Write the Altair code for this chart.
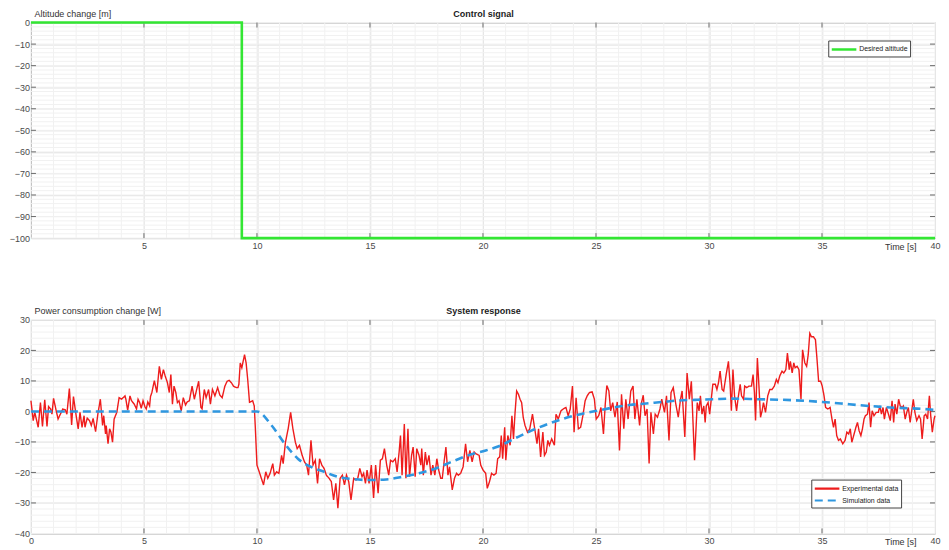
import altair as alt
import pandas as pd

FONT = "Liberation Sans"
W = 906
H1 = 216
H2 = 214

# ---------------- data ----------------
step_t = [0.0, 9.33, 40.0]
step_v = [0, -100, -100]

exp_t = [0.00, 0.10, 0.17, 0.32, 0.42, 0.51, 0.61, 0.71, 0.78, 0.87, 0.93, 1.00, 1.10, 1.20, 1.30, 1.41, 1.52, 1.59, 1.70, 1.80,
         1.88, 1.99, 2.09, 2.17, 2.26, 2.35, 2.39, 2.49, 2.59, 2.67, 2.75, 2.86, 2.96, 3.07, 3.17, 3.22, 3.30, 3.33, 3.41, 3.48,
         3.54, 3.61, 3.68, 3.75, 3.80, 3.90, 4.01, 4.16, 4.20, 4.28, 4.38, 4.45, 4.57, 4.67, 4.74, 4.81, 4.88, 4.96, 5.04, 5.10,
         5.17, 5.25, 5.29, 5.35, 5.46, 5.57, 5.68, 5.77, 5.86, 5.94, 6.04, 6.12, 6.19, 6.26, 6.33, 6.41, 6.48, 6.55, 6.65, 6.74,
         6.84, 6.91, 7.01, 7.13, 7.23, 7.42, 7.52, 7.57, 7.67, 7.75, 7.86, 7.94, 8.03, 8.14, 8.26, 8.36, 8.46, 8.58, 8.68, 8.77,
         8.87, 8.96, 9.09, 9.16, 9.20, 9.26, 9.33, 9.45, 9.52, 9.59, 9.67, 9.81, 9.88, 9.93,
         10.00, 10.10, 10.29, 10.39, 10.48, 10.58, 10.70, 10.77, 10.87, 10.97, 11.09, 11.16, 11.26, 11.38, 11.49, 11.59, 11.70, 11.78, 11.88, 12.00,
         12.10, 12.20, 12.28, 12.39, 12.48, 12.58, 12.68, 12.77, 12.87, 12.97, 13.07, 13.19, 13.29, 13.39, 13.49, 13.58, 13.68, 13.78, 13.87, 13.96,
         14.06, 14.16, 14.28, 14.38, 14.46, 14.55, 14.65, 14.72, 14.80, 14.87, 14.96, 15.06, 15.16, 15.25, 15.36, 15.46, 15.55, 15.64, 15.74, 15.83,
         15.91, 16.01, 16.12, 16.20, 16.29, 16.35, 16.42, 16.52, 16.59, 16.68, 16.75, 16.84, 16.91, 17.00, 17.07, 17.17, 17.25, 17.29, 17.36, 17.45,
         17.52, 17.61, 17.70, 17.78, 17.87, 17.96, 18.04, 18.13, 18.20, 18.28, 18.36, 18.45, 18.52, 18.64, 18.74, 18.83, 18.91, 19.01, 19.12, 19.23,
         19.32, 19.42, 19.52, 19.61, 19.68, 19.83, 19.90,
         20.00, 20.12, 20.19, 20.29, 20.38, 20.48, 20.58, 20.65, 20.74, 20.81, 20.87, 20.96, 21.01, 21.10, 21.20, 21.28, 21.35, 21.42, 21.49, 21.57,
         21.64, 21.71, 21.78, 21.86, 21.97, 22.07, 22.19, 22.29, 22.39, 22.46, 22.55, 22.65, 22.72, 22.80, 22.87, 22.94, 23.04, 23.16, 23.23, 23.33,
         23.45, 23.55, 23.67, 23.77, 23.86, 23.96, 24.03, 24.12, 24.22, 24.32, 24.42, 24.52, 24.61, 24.71, 24.83, 24.93, 25.01, 25.12, 25.22, 25.33,
         25.41, 25.48, 25.57, 25.65, 25.74, 25.84, 25.94, 26.04, 26.13, 26.23, 26.32, 26.42, 26.54, 26.64, 26.72, 26.81, 26.93, 27.00, 27.09, 27.17,
         27.26, 27.35, 27.43, 27.54, 27.62, 27.72, 27.83, 27.91, 28.03, 28.12, 28.23, 28.32, 28.42, 28.52, 28.64, 28.74, 28.81, 28.93, 29.03, 29.13,
         29.22, 29.36, 29.48, 29.56, 29.62, 29.69, 29.77, 29.83, 29.88, 29.96,
         30.03, 30.10, 30.17, 30.28, 30.35, 30.42, 30.49, 30.58, 30.65, 30.76, 30.86, 30.93, 30.99, 31.06, 31.13, 31.22, 31.29, 31.38, 31.44, 31.53,
         31.58, 31.67, 31.77, 31.88, 31.95, 32.01, 32.06, 32.14, 32.21, 32.28, 32.35, 32.41, 32.50, 32.60, 32.69, 32.79, 32.89, 32.98, 33.05, 33.13,
         33.23, 33.31, 33.40, 33.47, 33.55, 33.60, 33.68, 33.75, 33.81, 33.90, 33.98, 34.07, 34.14, 34.24, 34.32, 34.39, 34.46, 34.53, 34.62, 34.71,
         34.78, 34.85, 34.94, 35.01, 35.09, 35.16, 35.26, 35.36, 35.44, 35.51, 35.58, 35.65, 35.73, 35.81, 35.92, 36.02, 36.10, 36.18, 36.25, 36.32,
         36.42, 36.50, 36.57, 36.64, 36.72, 36.79, 36.86, 36.92, 37.01, 37.08, 37.15, 37.22, 37.30, 37.40, 37.49, 37.56, 37.63, 37.70, 37.76, 37.85,
         37.94, 38.02, 38.10, 38.17, 38.23, 38.31, 38.39, 38.46, 38.55, 38.60, 38.68, 38.75, 38.82, 38.90, 38.97, 39.04, 39.11, 39.19, 39.29, 39.36,
         39.43, 39.52, 39.59, 39.67, 39.75, 39.81, 39.88, 39.96, 40.00]
exp_v = [3.5, -3.0, -0.3, -5.2, 2.9, -4.9, 3.8, -4.9, 1.6, 0.8, -0.9, 4.3, 0.8, -2.5, -0.9, 0.8, 0.5, -0.9, 7.5, -4.4,
         4.9, -0.9, -5.7, -0.3, -5.2, -1.4, -5.2, -2.2, -3.0, -4.6, -2.3, -6.6, -0.9, 4.0, -4.6, -1.4, -7.4, -4.6, -10.6, -5.7,
         -6.8, -10.1, -2.5, -1.2, -0.3, 4.5, 4.0, 5.1, 4.0, 0.4, 5.1, 3.5, 2.4, 0.8, 4.0, 2.9, 1.0, 3.5, 1.6, 0.8,
         3.1, 1.8, 4.9, 6.2, 10.1, 6.2, 14.8, 10.5, 13.7, 11.6, 9.4, 6.2, 12.1, 2.4, 8.3, 6.2, 2.9, 3.5, 0.2, 4.5,
         2.1, 3.1, 3.5, 8.3, 4.0, 9.9, 1.3, 0.8, 7.2, 4.5, 7.2, 2.4, 7.2, 5.1, 7.8, 5.3, 4.5, 8.3, 9.9, 10.2,
         9.4, 8.3, 7.8, 7.8, 8.9, 15.9, 14.3, 18.6, 15.9, 10.5, 3.0, 3.5, 1.8, -5.7,
         -17.6, -19.8, -24.1, -19.8, -21.9, -20.3, -17.1, -20.9, -19.8, -20.3, -14.4, -17.1, -10.1, -5.7, -0.3, -5.7, -10.1, -12.2, -11.1, -14.4,
         -16.5, -17.6, -20.9, -9.5, -17.6, -16.0, -23.6, -15.5, -17.6, -18.7, -20.9, -21.9, -23.0, -29.0, -23.6, -31.7, -21.9, -20.9, -24.1, -20.9,
         -23.0, -29.0, -21.9, -22.5, -21.9, -18.7, -21.4, -20.3, -23.6, -19.2, -23.6, -17.6, -28.4, -17.6, -26.8, -16.0, -15.5, -12.2, -17.6, -20.9,
         -16.0, -16.5, -15.5, -19.8, -13.3, -7.9, -20.9, -4.1, -21.9, -5.7, -21.4, -14.4, -11.7, -21.4, -12.2, -14.4, -17.6, -12.2, -20.9, -13.3,
         -17.6, -14.4, -20.9, -17.6, -20.9, -15.5, -19.2, -21.9, -21.9, -16.5, -11.7, -20.9, -18.2, -25.7, -21.9, -20.3, -20.9, -20.3, -18.2, -10.6,
         -16.5, -12.8, -16.5, -13.3, -13.8, -14.4, -17.6,
         -19.2, -20.3, -25.2, -23.0, -20.3, -20.9, -20.3, -15.5, -14.9, -7.9, -15.5, -5.2, -16.0, -7.9, -11.1, -1.4, -9.0, -0.3, 6.7, 5.6,
         4.0, 2.9, -1.9, -4.6, -6.8, -5.7, -0.9, -5.7, -10.6, -5.7, -14.9, -6.8, -14.4, -13.3, -9.5, -11.1, -9.0, -11.1, -0.9, -2.5,
         0.2, 0.8, 1.3, -1.4, 0.8, 8.3, -6.8, 4.5, -5.7, -5.2, -1.4, 3.5, 5.1, 6.2, 6.4, 4.0, -2.5, -1.4, 1.3, -7.4,
         2.4, 8.5, 6.7, 0.2, 2.9, -1.9, 3.1, -12.8, 5.6, -5.7, 4.0, -2.5, 6.7, 8.3, -2.5, 4.0, -4.6, 2.4, 5.3, -1.4,
         0.8, -17.1, -0.3, -7.4, -0.9, -1.9, 0.8, 4.0, -0.3, 5.1, -9.5, 6.2, 7.8, 2.9, -1.9, 4.0, 6.7, -8.4, 12.6, 4.0,
         9.9, -16.0, 2.9, 0.2, 5.1, -0.9, 1.8, -3.6, 1.8, 2.9,
         -0.9, 4.0, 8.9, 8.9, 7.2, 9.4, 13.2, 7.2, 6.7, 12.1, 16.4, 9.4, 0.2, 13.7, 5.1, 0.2, 4.5, 8.9, 5.1, 4.0,
         8.3, 7.8, 8.3, 8.3, 12.1, 6.2, -3.0, 17.5, 8.3, -1.9, 0.2, 2.9, -0.3, 5.1, 7.2, 7.2, 8.3, 10.5, 9.4, 11.6,
         13.2, 12.6, 13.7, 19.1, 13.7, 16.4, 12.6, 15.9, 14.3, 14.8, 13.7, 4.0, 20.2, 15.9, 14.8, 18.6, 25.6, 24.5, 24.5, 23.5,
         17.0, 9.9, 9.9, 8.3, 5.1, 1.3, 0.8, 1.3, -2.5, -5.2, -2.5, -7.9, -9.5, -9.0, -10.6, -9.5, -6.8, -7.4, -5.7, -10.1,
         -7.4, -5.2, -3.6, -6.3, -7.9, -5.7, -2.5, -1.4, -0.9, 2.9, -5.2, 0.2, -1.4, -0.3, -0.3, 1.8, -0.9, 1.3, -2.5, 1.3,
         -0.9, -3.0, 3.5, -3.6, 2.4, -0.9, 4.0, 1.8, 1.3, 1.8, -2.5, -0.3, 1.3, -3.6, 0.2, 4.0, -0.3, -3.0, -1.4, -2.5,
         -9.0, -1.4, -0.9, -2.5, 5.1, -1.4, -6.8, -2.5, -1.4]

sim_t = [0.0, 10.0, 10.65, 11.23, 11.81, 12.39, 12.97, 13.55, 14.28, 15.0, 15.72, 16.45, 17.17, 17.9, 18.62, 19.35,
         20.12, 20.7, 21.42, 22.14, 22.87, 23.59, 24.32, 25.04, 25.77, 26.49, 27.22, 27.94, 28.67, 29.39, 30.2, 31.0,
         32.2, 33.66, 35.0, 35.84, 36.57, 38.02, 39.48, 40.0]
sim_v = [0.0, 0.0, -4.6, -10.6, -15.5, -18.2, -19.8, -21.4, -22.2, -22.5, -22.3, -21.4, -20.3, -18.7, -16.5, -14.4,
         -12.8, -11.4, -8.8, -6.3, -4.1, -2.3, -0.9, 0.2, 1.3, 2.1, 2.6, 3.1, 3.6, 3.8, 4.0, 4.2,
         4.0, 3.7, 3.1, 2.6, 2.1, 1.3, 0.8, 0.5]

x_ticks_top = [5, 10, 15, 20, 25, 30, 35, 40]
x_ticks_bot = [0, 5, 10, 15, 20, 25, 30, 35, 40]
y_ticks_top = [0, -10, -20, -30, -40, -50, -60, -70, -80, -90, -100]
y_ticks_bot = [30, 20, 10, 0, -10, -20, -30, -40]
minor_x = list(range(0, 41))
minor_y_top = list(range(-100, 1, 2))
minor_y_bot = list(range(-40, 31, 2))

GREEN = "#33e633"
RED = "#ee1c1c"
BLUE = "#2f97e0"
LABEL = "#4a4a4a"
MAJOR = "#dcdcdc"
MINOR = "#f1f1f1"
TICK = "#6a6a6a"
SYMBOL_PATH = "M-1,0L3.5,0"


def make_axis_x(values, w):
    return alt.Axis(values=values, grid=True, gridColor=MAJOR, ticks=False, domain=False,
                    labelFontSize=9, labelColor=LABEL, labelPadding=3.5, labelFlush=False,
                    title="Time [s]", titleFontSize=9, titleFontWeight="normal", titleColor="#333",
                    titleX=w - 19, titleY=4, titleAlign="right", titleBaseline="top", format="d")


def make_axis_y(values, title):
    return alt.Axis(values=values, grid=True, gridColor=MAJOR, ticks=False, domain=False,
                    labelFontSize=9, labelColor=LABEL, labelPadding=1.5,
                    title=title, titleAngle=0, titleFontSize=9, titleFontWeight="normal", titleColor="#333",
                    titleX=3, titleY=-6, titleAlign="left", titleBaseline="alphabetic", format="d")


def panel(lines, xt, yt, minor_y, ydom, h, ytitle, title):
    xscale = alt.Scale(domain=[0, 40], nice=False, zero=False)
    X = alt.X("t:Q", scale=xscale, axis=make_axis_x(xt, W))
    Y = alt.Y("v:Q", scale=alt.Scale(domain=ydom, nice=False, zero=False), axis=make_axis_y(yt, ytitle))
    mx = alt.Chart(pd.DataFrame({"t": minor_x})).mark_rule(color=MINOR, strokeWidth=1).encode(x=X)
    my = alt.Chart(pd.DataFrame({"v": minor_y})).mark_rule(color=MINOR, strokeWidth=1).encode(y=Y)
    tk_x = pd.DataFrame({"t": [v for v in xt if 0 < v < 40]})
    tk_y = pd.DataFrame({"v": [v for v in yt if ydom[0] < v < ydom[1]]})
    tb = alt.Chart(tk_x).mark_rule(color=TICK, strokeWidth=1).encode(x=X, y=alt.value(h), y2=alt.value(h - 5))
    tt = alt.Chart(tk_x).mark_rule(color=TICK, strokeWidth=1).encode(x=X, y=alt.value(0), y2=alt.value(5))
    tl = alt.Chart(tk_y).mark_rule(color=TICK, strokeWidth=1).encode(y=Y, x=alt.value(0), x2=alt.value(5))
    tr = alt.Chart(tk_y).mark_rule(color=TICK, strokeWidth=1).encode(y=Y, x=alt.value(W), x2=alt.value(W - 5))
    main = alt.layer(mx, my, tb, tt, tl, tr, *[f(X, Y) for f in lines])
    # top axis carrying only the panel title
    Xt = alt.X("t:Q", scale=xscale,
               axis=alt.Axis(orient="top", labels=False, ticks=False, domain=False, grid=False,
                             title=title, titleFontSize=9, titleFontWeight="bold", titleColor="#222",
                             titleX=W / 2, titleY=-6, titleAlign="center", titleBaseline="alphabetic"))
    ttl = alt.Chart(pd.DataFrame({"t": [0]})).mark_rule(opacity=0).encode(x=Xt)
    return alt.layer(main, ttl).resolve_axis(x="independent").properties(width=W, height=h)


# top panel
top_df = pd.DataFrame({"t": step_t, "v": step_v, "s": ["Desired altitude"] * len(step_t)})
leg1 = alt.Legend(title=None, orient="none", legendX=W - 107, legendY=18,
                  fillColor="white", strokeColor="#444", padding=2,
                  labelFontSize=7, labelColor="#222", symbolSize=120,
                  symbolStrokeWidth=2.5, symbolType=SYMBOL_PATH, labelOffset=15)


def green(X, Y):
    return alt.Chart(top_df).mark_line(strokeWidth=2.6, interpolate="step-after").encode(
        x=X, y=Y,
        color=alt.Color("s:N", scale=alt.Scale(domain=["Desired altitude"], range=[GREEN]), legend=leg1))


exp_df = pd.DataFrame({"t": exp_t, "v": exp_v, "s": ["Experimental data"] * len(exp_t)})
sim_df = pd.DataFrame({"t": sim_t, "v": sim_v, "s": ["Simulation data"] * len(sim_t)})
SER = ["Experimental data", "Simulation data"]
leg2 = alt.Legend(title=None, orient="none", legendX=W - 124, legendY=160, fillColor="white", strokeColor="#444",
                  padding=2, labelFontSize=7, labelColor="#222", symbolSize=120, symbolStrokeWidth=2.2,
                  symbolType=SYMBOL_PATH, labelOffset=15, rowPadding=0)
C2 = alt.Color("s:N", scale=alt.Scale(domain=SER, range=[RED, BLUE]), legend=leg2)
D2 = alt.StrokeDash("s:N", scale=alt.Scale(domain=SER, range=[[1, 0], [8, 5]]), legend=leg2)


def red(X, Y):
    return alt.Chart(exp_df).mark_line(strokeWidth=1.4).encode(x=X, y=Y, color=C2, strokeDash=D2)


def blue(X, Y):
    return alt.Chart(sim_df).mark_line(strokeWidth=2.6, interpolate="monotone").encode(x=X, y=Y, color=C2, strokeDash=D2)


top = panel([green], x_ticks_top, y_ticks_top, minor_y_top, [-100, 0], H1, "Altitude change [m]", "Control signal")
bottom = panel([red, blue], x_ticks_bot, y_ticks_bot, minor_y_bot, [-40, 30], H2,
               "Power consumption change [W]", "System response")

chart = alt.vconcat(top, bottom, spacing=54).resolve_scale(
    color="independent", strokeDash="independent"
).properties(padding=0).configure(
    font=FONT, background="white"
).configure_view(stroke="#9a9a9a", strokeWidth=1)

chart.save("out.html", embed_options={"renderer": "svg", "actions": False})
